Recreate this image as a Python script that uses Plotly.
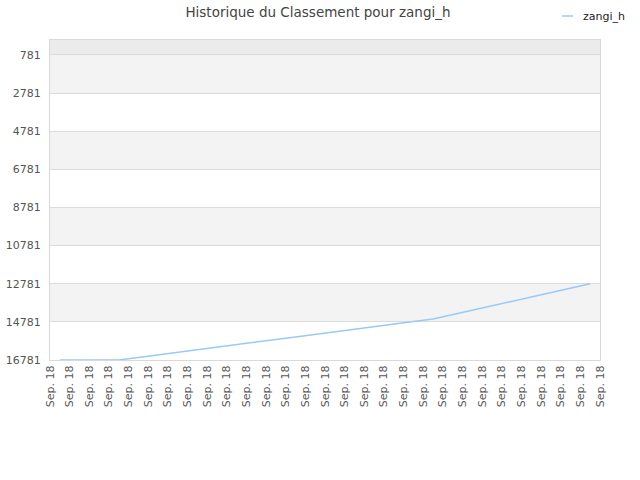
import plotly.graph_objects as go

player = "zangi_h"
tick_labels = ["Sep. 18"] * 29
day_index = list(range(28))
rank = [16781, 16781, 16781, 16781, 16650, 16510, 16380, 16240, 16110, 15970,
        15840, 15700, 15570, 15430, 15300, 15170, 15030, 14900, 14760, 14630,
        14400, 14170, 13940, 13710, 13480, 13240, 13010, 12781]
y_ticks = [781, 2781, 4781, 6781, 8781, 10781, 12781, 14781, 16781]

line_color = "#99c9f5"

fig = go.Figure()
fig.add_trace(go.Scatter(
    x=[d + 0.5 for d in day_index],
    y=rank,
    mode="lines",
    name=player,
    line=dict(color=line_color, width=1.5),
    showlegend=False,
))

# alternating background bands
bands = [(0, 781, "#ebebeb")]
for k in range(0, len(y_ticks) - 1, 2):
    bands.append((y_ticks[k], y_ticks[k + 1], "#f3f3f3"))
for y0, y1, col in bands:
    fig.add_shape(type="rect", xref="paper", yref="y", x0=0, x1=1, y0=y0, y1=y1,
                  fillcolor=col, line_width=0, layer="below")

# small legend in the top right corner
fig.add_shape(type="line", xref="paper", yref="paper",
              x0=512 / 550, x1=523 / 550, y0=1 + 24 / 320, y1=1 + 24 / 320,
              line=dict(color=line_color, width=1.5))
fig.add_annotation(text=player, xref="paper", yref="paper",
                   x=531 / 550, y=1 + 24 / 320, xanchor="left", yanchor="middle",
                   showarrow=False, font=dict(size=11, color="#222"))

fig.update_layout(
    width=640, height=480,
    margin=dict(l=50, r=40, t=40, b=120),
    paper_bgcolor="white", plot_bgcolor="white",
    font=dict(family="DejaVu Sans", size=11, color="#555"),
    title=dict(text="Historique du Classement pour " + player,
               x=318 / 640, y=1 - 12 / 480, xanchor="center", yanchor="middle",
               font=dict(size=13.5, color="#444")),
    xaxis=dict(range=[0, 28], tickmode="array",
               tickvals=list(range(29)), ticktext=tick_labels,
               tickangle=-90, showgrid=False, zeroline=False,
               showline=True, linecolor="#d9d9d9", mirror=True,
               ticks="", automargin=False,
               tickfont=dict(size=11, color="#555")),
    yaxis=dict(range=[16781, 0], tickmode="array", tickvals=y_ticks,
               ticktext=[str(v) for v in y_ticks],
               showgrid=True, gridcolor="#dcdcdc", zeroline=False,
               showline=True, linecolor="#d9d9d9", mirror=True,
               ticks="", automargin=False, ticklabelstandoff=6,
               tickfont=dict(size=11, color="#555")),
)

# drop the browser's default body margin so the figure sits at the page corner
fig.write_html("out.html", config={"displayModeBar": False},
               post_script="document.body.style.margin = '0';")
